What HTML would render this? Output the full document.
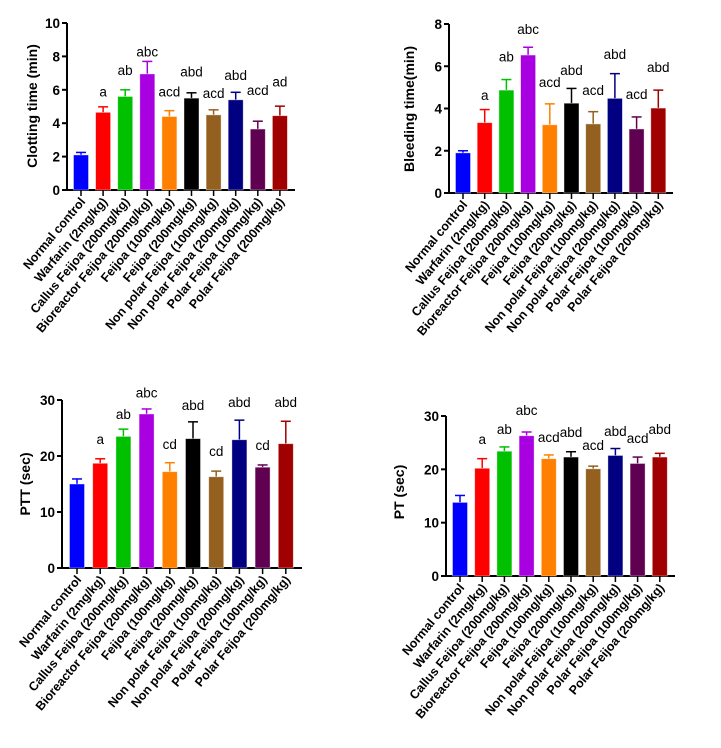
<!DOCTYPE html>
<html><head><meta charset="utf-8"><style>
html,body{margin:0;padding:0;background:#fff;}
svg{display:block;font-family:"Liberation Sans",Arial,sans-serif;}
</style></head><body>
<svg id="fig" width="721" height="748" viewBox="0 0 721 748"></svg>
<script>
const categories=["Normal control","Warfarin (2mg/kg)","Callus Feijoa (200mg/kg)","Bioreactor Feijoa (200mg/kg)","Feijoa (100mg/kg)","Feijoa (200mg/kg)","Non polar Feijoa (100mg/kg)","Non polar Feijoa (200mg/kg)","Polar Feijoa (100mg/kg)","Polar Feijoa (200mg/kg)"];
const colors=["#0000ff","#ff0000","#00c000","#a800e0","#ff8000","#000000","#936020","#000080","#600050","#a00000"];
const clotValues=[2.1,4.65,5.6,6.95,4.4,5.5,4.5,5.4,3.65,4.45];
const clotErrTop=[2.25,4.98,6.0,7.7,4.75,5.82,4.8,5.85,4.12,5.02];
const clotLetters=["","a","ab","abc","acd","abd","acd","abd","acd","ad"];
const clotLetterY=[0,5.9,7.2,8.3,5.9,7.1,5.8,6.9,6.0,6.5];
const clotTicks=[0,2,4,6,8,10];
const bleedValues=[1.9,3.33,4.87,6.53,3.23,4.25,3.27,4.48,3.03,4.02];
const bleedErrTop=[2.0,3.95,5.37,6.9,4.22,4.95,3.85,5.65,3.6,4.87];
const bleedLetters=["","a","ab","abc","acd","abd","acd","abd","acd","abd"];
const bleedLetterY=[0,4.64,6.45,7.77,5.26,5.83,4.88,6.59,4.69,5.97];
const bleedTicks=[0,2,4,6,8];
const pttValues=[15,18.7,23.5,27.5,17.2,23.1,16.3,22.9,18,22.2];
const pttErrTop=[15.9,19.5,24.8,28.4,18.8,26.1,17.3,26.4,18.4,26.2];
const pttLetters=["","a","ab","abc","cd","abd","cd","abd","cd","abd"];
const pttLetterY=[0,23,27.5,31.3,22.1,29.1,20.9,29.6,22,29.6];
const pttTicks=[0,10,20,30];
const ptValues=[13.8,20.2,23.4,26.3,22,22.3,20.1,22.6,21.1,22.3];
const ptErrTop=[15.1,22,24.2,27,22.7,23.3,20.6,23.9,22.3,23];
const ptLetters=["","a","ab","abc","acd","abd","acd","abd","acd","abd"];
const ptLetterY=[0,25.7,27.6,31.1,26.1,27,24.6,27.2,25.9,27.6];
const ptTicks=[0,10,20,30];

const NS="http://www.w3.org/2000/svg";
const svg=document.getElementById('fig');
function mk(tag,attrs,parent,text){const e=document.createElementNS(NS,tag);for(const k in attrs)e.setAttribute(k,attrs[k]);if(text!==undefined)e.textContent=text;parent.appendChild(e);return e;}

function chart(cfg){
  const g=mk('g',{},svg);
  
  
  const y=v=>cfg.y0-(v/cfg.max)*(cfg.y0-cfg.yTop);
  const x=i=>cfg.x1+i*cfg.step;
  const bw=15;
  const ya=mk('line',{x1:cfg.ax,y1:cfg.yTop,x2:cfg.ax,y2:cfg.y0,stroke:'#000','stroke-width':2},g);
  
  
  const xa=mk('line',{x1:cfg.ax-1,y1:cfg.y0,x2:cfg.axEnd,y2:cfg.y0,stroke:'#000','stroke-width':2},g);
  
  
  cfg.ticks.forEach(t=>{
    mk('line',{x1:cfg.ax-5,y1:y(t),x2:cfg.ax,y2:y(t),stroke:'#000','stroke-width':2},g);
    const tl=mk('text',{x:cfg.ax-7,y:y(t)+5,'text-anchor':'end','font-size':13.5,'font-weight':'bold'},g,String(t));
    
    
  });
  const tt=mk('text',{transform:`translate(${cfg.titleX},${cfg.titleY}) rotate(-90)`,'text-anchor':'middle','font-size':14,'font-weight':'bold'},g,cfg.title);
  
  
  cfg.values.forEach((v,i)=>{
    const cx=x(i);
    const top=y(v);
    const et=y(cfg.err[i]);
    const l=mk('line',{x1:cx,y1:top,x2:cx,y2:et,stroke:colors[i],'stroke-width':1.5},g);
    
    
    mk('line',{x1:cx-5,y1:et,x2:cx+5,y2:et,stroke:colors[i],'stroke-width':1.5},g);
    const b=mk('rect',{x:cx-bw/2,y:top,width:bw,height:cfg.y0-top,fill:colors[i],stroke:'rgba(255,255,255,0.5)','stroke-width':0.8},g);
    
    
    mk('line',{x1:cx,y1:cfg.y0,x2:cx,y2:cfg.y0+6,stroke:'#000','stroke-width':1.5},g);
    if(cfg.letters[i]){
      const lt=mk('text',{x:cx,y:y(cfg.letterY[i])+5,'text-anchor':'middle','font-size':13.5},g,cfg.letters[i]);
      
      
    }
    const cl=mk('text',{transform:`translate(${cx+5},${cfg.y0+12}) rotate(-50)`,'text-anchor':'end','font-size':12.5,'font-weight':'bold'},g,categories[i]);
    
    
  });
}
chart({name:'clotting-time-chart',ax:67,axEnd:295,y0:190,yTop:23,max:10,x1:81,step:22.1,ticks:clotTicks,values:clotValues,err:clotErrTop,letters:clotLetters,letterY:clotLetterY,title:'Clotting time (min)',titleX:37,titleY:106});
chart({name:'bleeding-time-chart',ax:449,axEnd:673,y0:193,yTop:24,max:8,x1:463,step:21.7,ticks:bleedTicks,values:bleedValues,err:bleedErrTop,letters:bleedLetters,letterY:bleedLetterY,title:'Bleeding time(min)',titleX:414,titleY:109});
chart({name:'ptt-chart',ax:62,axEnd:302,y0:568,yTop:400,max:30,x1:77,step:23.2,ticks:pttTicks,values:pttValues,err:pttErrTop,letters:pttLetters,letterY:pttLetterY,title:'PTT (sec)',titleX:30,titleY:484});
chart({name:'pt-chart',ax:446,axEnd:675,y0:576,yTop:416,max:30,x1:460,step:22.2,ticks:ptTicks,values:ptValues,err:ptErrTop,letters:ptLetters,letterY:ptLetterY,title:'PT (sec)',titleX:404,titleY:492});
</script>
</body></html>
